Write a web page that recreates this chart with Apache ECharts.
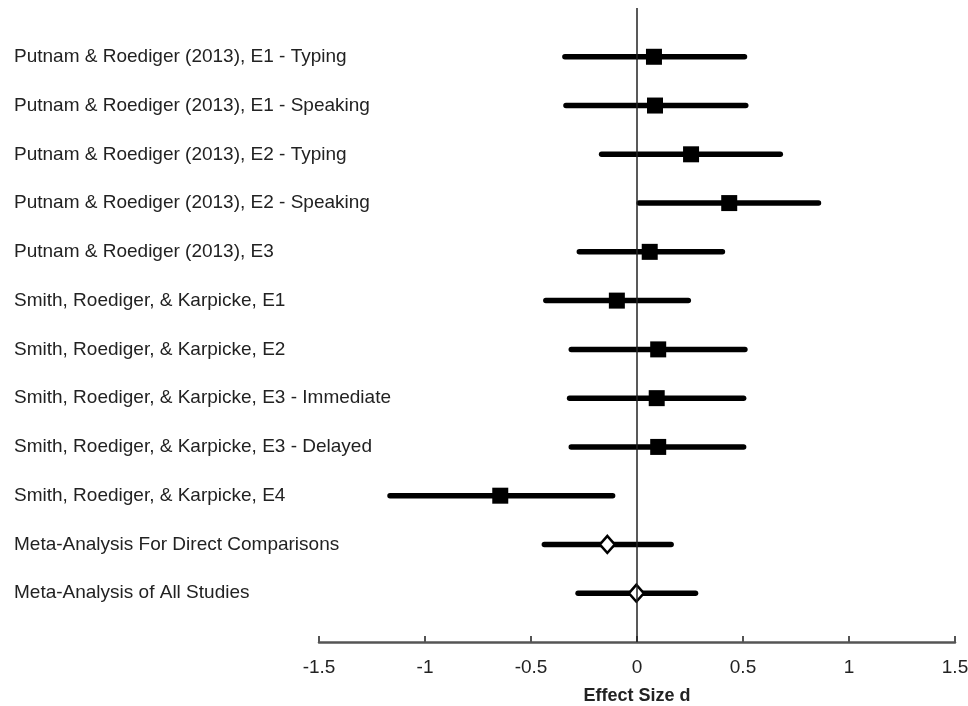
<!DOCTYPE html>
<html>
<head>
<meta charset="utf-8">
<script src="https://cdn.jsdelivr.net/npm/echarts@6/dist/echarts.min.js"></script>
<style>
    html, body { margin: 0; padding: 0; background: #fff; }
    #forest { width: 968px; height: 706px; }
</style>
</head>
<body>
<div id="forest"></div>
<script>
// study labels, top to bottom
var studies = [
    'Putnam & Roediger (2013), E1 - Typing',
    'Putnam & Roediger (2013), E1 - Speaking',
    'Putnam & Roediger (2013), E2 - Typing',
    'Putnam & Roediger (2013), E2 - Speaking',
    'Putnam & Roediger (2013), E3',
    'Smith, Roediger, & Karpicke, E1',
    'Smith, Roediger, & Karpicke, E2',
    'Smith, Roediger, & Karpicke, E3 - Immediate',
    'Smith, Roediger, & Karpicke, E3 - Delayed',
    'Smith, Roediger, & Karpicke, E4',
    'Meta-Analysis For Direct Comparisons',
    'Meta-Analysis of All Studies'
];
// effect size d and 95% CI bounds
var effect = [0.08, 0.085, 0.255, 0.435, 0.06, -0.095, 0.10, 0.093, 0.10, -0.645, -0.14, -0.003];
var lower = [-0.34, -0.335, -0.167, 0.01, -0.272, -0.43, -0.31, -0.318, -0.31, -1.165, -0.437, -0.278];
var upper = [0.507, 0.513, 0.676, 0.856, 0.403, 0.242, 0.509, 0.503, 0.503, -0.115, 0.161, 0.276];
// last two rows are the meta-analytic summaries
var isMeta = [false, false, false, false, false, false, false, false, false, false, true, true];

var chart = echarts.init(document.getElementById('forest'));

var ciData = [], studyPts = [], metaPts = [];
for (var i = 0; i < studies.length; i++) {
    ciData.push([lower[i], upper[i], i + 1]);
    if (isMeta[i]) {
        metaPts.push([effect[i], i + 1]);
    } else {
        studyPts.push([effect[i], i + 1]);
    }
}

var font = 'Liberation Sans, Arial, Helvetica, sans-serif';

var option = {
    backgroundColor: '#fff',
    animation: false,
    grid: {
        left: 319,
        right: 13,
        top: 8,
        bottom: 64,
        outerBoundsMode: 'none',
        containLabel: false
    },
    xAxis: {
        type: 'value',
        position: 'bottom',
        min: -1.5,
        max: 1.5,
        interval: 0.5,
        splitLine: { show: false },
        axisLine: { onZero: false, lineStyle: { color: '#555', width: 2.5 } },
        axisTick: { inside: true, length: 6, lineStyle: { color: '#555', width: 2 } },
        axisLabel: { color: '#222', fontSize: 19, fontFamily: font, margin: 16 },
        name: 'Effect Size d',
        nameLocation: 'middle',
        nameGap: 45,
        nameTextStyle: { color: '#222', fontSize: 18, fontWeight: 'bold', fontFamily: font }
    },
    yAxis: {
        type: 'value',
        inverse: true,
        min: 0,
        max: 13,
        interval: 1,
        splitLine: { show: false },
        axisLine: { show: false },
        axisTick: { show: false },
        axisLabel: {
            align: 'left',
            margin: 305,
            color: '#222',
            fontSize: 19,
            fontFamily: font,
            formatter: function (v) {
                return studies[v - 1] || '';
            }
        }
    },
    series: [
        {
            type: 'custom',
            name: 'ci',
            data: ciData,
            renderItem: function (params, api) {
                var a = api.coord([api.value(0), api.value(2)]);
                var b = api.coord([api.value(1), api.value(2)]);
                return {
                    type: 'line',
                    shape: { x1: a[0], y1: a[1], x2: b[0], y2: b[1] },
                    style: { stroke: '#000', lineWidth: 5.5, lineCap: 'round' }
                };
            },
            markLine: {
                silent: true,
                symbol: 'none',
                label: { show: false },
                lineStyle: { color: '#222', width: 1.5, type: 'solid' },
                data: [{ xAxis: 0 }]
            },
            z: 2
        },
        {
            type: 'scatter',
            name: 'study',
            data: studyPts,
            symbol: 'rect',
            symbolSize: 16,
            itemStyle: { color: '#000', opacity: 1 },
            z: 3
        },
        {
            type: 'scatter',
            name: 'meta',
            data: metaPts,
            symbol: 'diamond',
            symbolSize: [15, 17],
            itemStyle: { color: '#fff', borderColor: '#000', borderWidth: 2.5, opacity: 1 },
            z: 3
        }
    ]
};

chart.setOption(option);
</script>
</body>
</html>
